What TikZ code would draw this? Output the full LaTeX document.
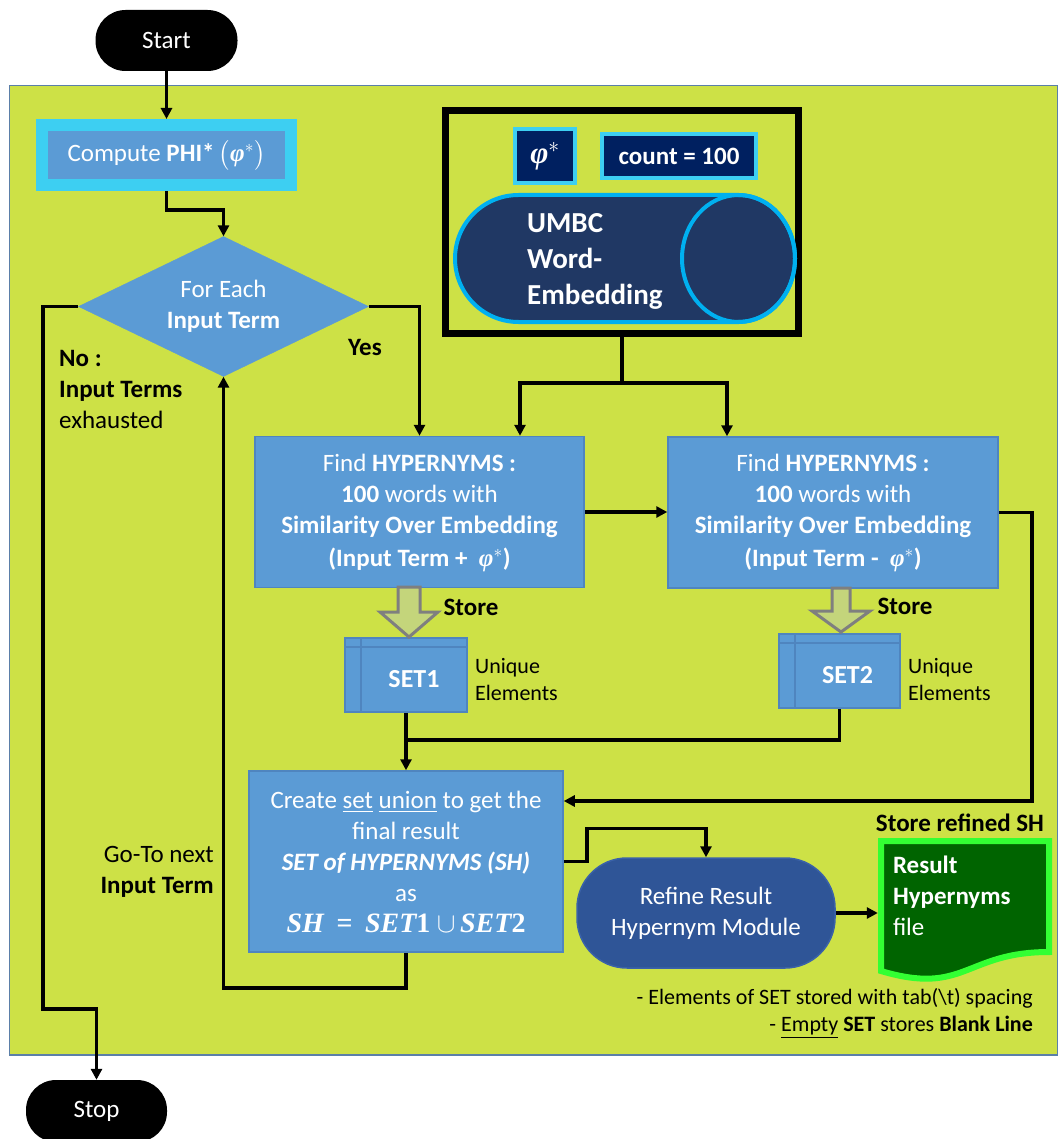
\documentclass[tikz,border=0pt]{standalone}
\usepackage{fix-cm}
\usepackage{amsmath}
\usepackage{fontspec}
\setmainfont{Carlito}
\newfontfamily\formulafont{Liberation Serif}
\usetikzlibrary{arrows.meta,shapes.geometric,calc}

% bold italic phi with a star, and bold italic set names
\newcommand\phistar{{\formulafont\bfseries\itshape φ}$^{*}$}
\newcommand\bisym[1]{{\formulafont\bfseries\itshape #1}}
\newcommand\bnum[1]{{\formulafont\bfseries #1}}

\definecolor{panel}{HTML}{CDE146}
\definecolor{panelEdge}{HTML}{5B7FA8}
\definecolor{boxBlue}{HTML}{5B9BD5}
\definecolor{boxEdge}{HTML}{4F85BF}
\definecolor{skyCyan}{HTML}{3DCFF2}
\definecolor{navy}{HTML}{002060}
\definecolor{dbNavy}{HTML}{203864}
\definecolor{dbCyan}{HTML}{00B0F0}
\definecolor{modBlue}{HTML}{2F5597}
\definecolor{modEdge}{HTML}{3A62A8}
\definecolor{fileGreen}{HTML}{006400}
\definecolor{fileEdge}{HTML}{33FF33}
\definecolor{arrowFill}{HTML}{C4D57B}
\definecolor{arrowEdge}{HTML}{7F7F7F}

\tikzset{
  txt/.style={font=\fontsize{25}{31}\selectfont, inner sep=0pt, align=center},
  small/.style={font=\fontsize{22}{27}\selectfont, inner sep=0pt},
  terminal/.style={txt, fill=black, text=white, rounded corners=30pt,
    minimum width=142, minimum height=61},
  process/.style={txt, fill=boxBlue, draw=boxEdge, line width=1.5, text=white},
  storage/.style={font=\fontsize{26}{31}\selectfont, inner sep=0pt,
    fill=boxBlue, draw=boxEdge, line width=1.5, text=white,
    minimum width=122, minimum height=74,
    path picture={
      \draw[boxEdge, line width=1.5]
        ([yshift=-9pt]path picture bounding box.north west) --
        ([yshift=-9pt]path picture bounding box.north east);
      \draw[boxEdge, line width=1.5]
        ([xshift=16pt]path picture bounding box.north west) --
        ([xshift=16pt]path picture bounding box.south west);}},
  tagbox/.style={txt, fill=navy, draw=skyCyan, line width=4, text=white},
  link/.style={line width=3.5},
  conn/.style={line width=3.5, -{Triangle[length=11pt,width=11pt]}},
  blockarrow/.style={fill=arrowFill, draw=arrowEdge, line width=3, line join=miter},
}

\begin{document}
\begin{tikzpicture}[x=1pt,y=-1pt]
\useasboundingbox (0,0) rectangle (1057,1139);

% panel behind the whole loop
\filldraw[fill=panel, draw=panelEdge, line width=1.5] (9.5,85.5) rectangle (1058,1055);

% terminals
\node[terminal] (start) at (166.5,40.5) {Start};
\node[terminal, minimum width=141, minimum height=62] (stop) at (96.5,1111) {Stop};

% phi computation
\node[txt, fill=boxBlue, draw=skyCyan, line width=12, text=white,
      minimum width=249, minimum height=60] (phi) at (166.5,155)
  {Compute \textbf{PHI*}\,$\bigl($\phistar$\bigr)$};

% loop decision
\node[txt, diamond, aspect=2, fill=boxBlue, draw=boxBlue, text=white,
      minimum width=290, minimum height=140] (dec) at (223.5,306.5)
  {For Each\\\textbf{Input Term}};

% embedding source
\node[draw=black, line width=7, minimum width=353, minimum height=223,
      inner sep=0pt] (umbc) at (622,222) {};
\node[tagbox, minimum width=60, minimum height=54,
      font=\fontsize{31}{36}\selectfont] (phibox) at (545,156) {\phistar};
\node[tagbox, minimum width=154, minimum height=44] (count) at (679,156)
  {\textbf{count = 100}};
\filldraw[fill=dbNavy, draw=dbCyan, line width=4]
  (518.5,195) -- (738.5,195)
  arc[start angle=90, end angle=-90, x radius=56.5pt, y radius=63.5pt]
  -- (518.5,322)
  arc[start angle=270, end angle=90, x radius=63.5pt, y radius=63.5pt]
  -- cycle;
\draw[dbCyan, line width=4] (738.5,258.5) ellipse [x radius=56.5pt, y radius=63.5pt];
\node[txt, text=white, anchor=west, align=left,
      font=\fontsize{29}{36}\selectfont\bfseries] (umbcdb) at (527,261)
  {UMBC\\Word-\\Embedding};

% hypernym searches
\node[process, minimum width=329, minimum height=151] (find1) at (419.5,512)
  {Find \textbf{HYPERNYMS :}\\\textbf{100} words with\\
   \textbf{Similarity Over Embedding}\\[2pt]
   \textbf{(Input Term +\ \ \smash{\fontsize{25}{31}\selectfont\phistar})}};
\node[process, minimum width=330, minimum height=151] (find2) at (833,512.5)
  {Find \textbf{HYPERNYMS :}\\\textbf{100} words with\\
   \textbf{Similarity Over Embedding}\\[2pt]
   \textbf{(Input Term -\ \ \smash{\fontsize{25}{31}\selectfont\phistar})}};

% result sets
\node[storage] (set1) at (406,675)
  {\hspace*{16pt}\raisebox{-4.5pt}[\height][\depth]{\textbf{SET1}}};
\node[storage, minimum width=121] (set2) at (839.5,671)
  {\hspace*{16pt}\raisebox{-4.5pt}[\height][\depth]{\textbf{SET2}}};
\node[small, anchor=west, align=left] (uniq1) at (475,679.5) {Unique\\Elements};
\node[small, anchor=west, align=left] (uniq2) at (908,679.5) {Unique\\Elements};
\node[txt] (store1) at (471,607) {\textbf{Store}};
\node[txt] (store2) at (905,606) {\textbf{Store}};

% union
\node[process, minimum width=314, minimum height=181] (union) at (406,861.5)
  {Create \underline{set} \underline{union} to get the\\final result\\
   \textbf{\textit{SET of HYPERNYMS (SH)}}\\as\\
   {\fontsize{28}{31}\selectfont\bisym{SH}\ \ \bnum{=}\ \ \bisym{SET}\bnum{1}\ $\cup$\,\bisym{SET}\bnum{2}}};

% refinement and output file
\node[txt, fill=modBlue, draw=modEdge, line width=1.5, text=white,
      rounded corners=50pt, minimum width=258, minimum height=110] (refine)
  at (706,913) {Refine Result\\Hypernym Module};
\filldraw[fill=fileGreen, draw=fileEdge, line width=6]
  (881,841) -- (1049,841) -- (1049,952)
  .. controls (965,952) and (965,996) .. (881,971) -- cycle;
\node[txt, text=white, align=left, text width=144, inner xsep=15pt,
      minimum height=117] (result) at (965,896)
  {\textbf{Result}\\\textbf{Hypernyms}\\file};
\node[txt] (storesh) at (960,823) {\textbf{Store refined SH}};
\node[small, anchor=east, align=right] (notes) at (1033,1013.5)
  {- Elements of SET stored with tab(\textbackslash t) spacing\\
   - \underline{Empty} \textbf{SET} stores \textbf{Blank Line}};

% branch labels
\node[txt, anchor=west, align=left] (nolabel) at (59,389)
  {\textbf{No :}\\\textbf{Input Terms}\\exhausted};
\node[txt] (yeslabel) at (365,347) {\textbf{Yes}};
\node[txt, anchor=east, align=right] (gotolabel) at (214,872)
  {Go-To next\\\textbf{Input Term}};

% connectors
\coordinate (noturn) at (43,1009);
\coordinate (split) at (622,383);
\coordinate (rturn) at (1032,801);
\coordinate (merge) at (406,740);
\coordinate (back) at (223.5,988);

\draw[conn] (start.south) -- (phi.north);
\draw[conn] (phi.south) -- ++(0,19) -| (dec.north);
\draw[conn] (dec.west) -| (noturn) -| (stop.north);
\draw[conn] (dec.east) -| (find1.north);
\draw[link] (umbc.south) -- (split);
\draw[conn] (split) -| ([xshift=100.5pt]find1.north);
\draw[conn] (split) -| ([xshift=-106pt]find2.north);
\draw[conn] (find1.east) -- (find1.east -| find2.west);
\draw[conn] (find2.east) -| (rturn) -- (rturn -| union.east);
\draw[link] (set2.south) |- (merge);
\draw[conn] (set1.south) -- (union.north);
\draw[conn] (union.south) |- (back) -- (dec.south);
\draw[conn] (union.east) -- ++(23,0) |- ([yshift=29pt]refine.north) -- (refine.north);
\draw[conn] (refine.east) -- (refine.east -| result.west);

% store arrows into the sets
\filldraw[blockarrow] (398,587) -- (420,587) -- (420,612) -- (438,612)
  -- (409,637) -- (380,612) -- (398,612) -- cycle;
\filldraw[blockarrow] (832,588) -- (850,588) -- (850,611) -- (870,611)
  -- (841,632) -- (812,611) -- (832,611) -- cycle;
\end{tikzpicture}
\end{document}
